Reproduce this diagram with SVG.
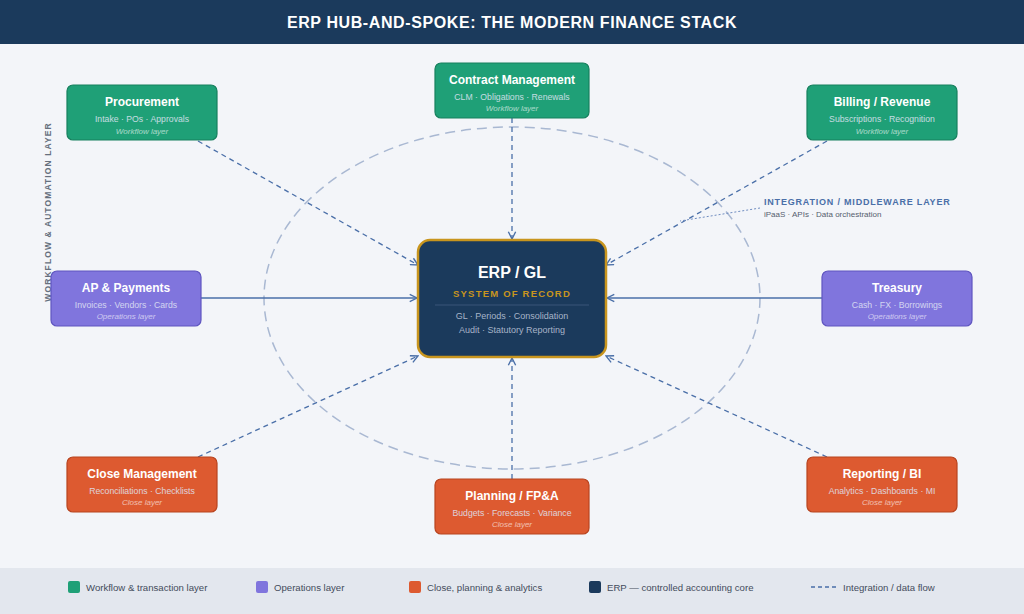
<svg xmlns="http://www.w3.org/2000/svg" width="1024" height="614" viewBox="0 0 1024 614">
<defs>
<style>
text{font-family:"Liberation Sans",Arial,sans-serif}
.t{font-size:12px;font-weight:bold;fill:#fff;text-anchor:middle}
.s{font-size:8.7px;fill:#e0e6f5;text-anchor:middle;opacity:.85}
.l{font-size:8px;font-style:italic;fill:#fff;text-anchor:middle;opacity:.6}
.g rect{fill:#1fa077;stroke:#17805e;stroke-width:1.2}
.p rect{fill:#8075dd;stroke:#5f55c0;stroke-width:1.2}
.o rect{fill:#dd5a30;stroke:#b8441f;stroke-width:1.2}
.c{stroke:#4a6fa8;stroke-width:1.3;fill:none;marker-end:url(#a)}
.d{stroke-dasharray:5 4}
.lg{font-size:9.6px;fill:#444c5c}
</style>
<marker id="a" viewBox="0 0 10 10" refX="9" refY="5" markerWidth="7" markerHeight="7" orient="auto"><path d="M1,1 L9,5 L1,9" fill="none" stroke="#4a6fa8" stroke-width="1.5"/></marker>
</defs>
<rect width="1024" height="614" fill="#f3f5f9"/>
<rect width="1024" height="44" fill="#1b3a5c"/>
<text x="512" y="28" font-size="16" font-weight="bold" fill="#fff" text-anchor="middle" letter-spacing="0.6">ERP HUB-AND-SPOKE: THE MODERN FINANCE STACK</text>
<ellipse cx="512" cy="298" rx="248" ry="171" fill="none" stroke="#a9b8d2" stroke-width="1.5" stroke-dasharray="10 6"/>
<text transform="translate(51,212) rotate(-90)" font-size="8.5" font-weight="bold" fill="#66707e" text-anchor="middle" letter-spacing="1.1">WORKFLOW &amp; AUTOMATION LAYER</text>
<g id="connectors">
<path class="c d" d="M198,141 L418,265"/>
<path class="c d" d="M512,118 L512,239"/>
<path class="c d" d="M827,141 L606,265"/>
<path class="c" d="M201,298 L417,298"/>
<path class="c" d="M822,298 L607,298"/>
<path class="c d" d="M198,457 L418,356"/>
<path class="c d" d="M512,479 L512,358"/>
<path class="c d" d="M827,457 L606,356"/>
<path d="M760,208 L680,221" stroke="#6f8cc0" stroke-width="1" stroke-dasharray="2 2" fill="none"/>
</g>
<g id="integration">
<text x="764" y="205" font-size="9" font-weight="bold" fill="#4a6fa8" letter-spacing="0.8">INTEGRATION / MIDDLEWARE LAYER</text>
<text x="764" y="217" font-size="8" fill="#555e6e">iPaaS · APIs · Data orchestration</text>
</g>
<g id="erp">
<rect x="418" y="240" width="188" height="117" rx="12" fill="#1b3a5c" stroke="#c8951e" stroke-width="2.5"/>
<text x="512" y="278" font-size="16" font-weight="bold" fill="#fff" text-anchor="middle">ERP / GL</text>
<text x="512" y="297" font-size="9.5" font-weight="bold" fill="#c8951e" text-anchor="middle" letter-spacing="1.2">SYSTEM OF RECORD</text>
<line x1="435" y1="305" x2="589" y2="305" stroke="#3a5578" stroke-width="1"/>
<text x="512" y="319" font-size="9" fill="#a7b4c8" text-anchor="middle">GL · Periods · Consolidation</text>
<text x="512" y="333" font-size="9" fill="#a7b4c8" text-anchor="middle">Audit · Statutory Reporting</text>
</g>
<g id="procurement" class="g"><rect x="67" y="85" width="150" height="55" rx="6"/><text class="t" x="142" y="106">Procurement</text><text class="s" x="142" y="122">Intake · POs · Approvals</text><text class="l" x="142" y="134">Workflow layer</text></g>
<g id="contract" class="g"><rect x="435" y="63" width="154" height="55" rx="6"/><text class="t" x="512" y="84">Contract Management</text><text class="s" x="512" y="100">CLM · Obligations · Renewals</text><text class="l" x="512" y="111">Workflow layer</text></g>
<g id="billing" class="g"><rect x="807" y="85" width="150" height="55" rx="6"/><text class="t" x="882" y="106">Billing / Revenue</text><text class="s" x="882" y="122">Subscriptions · Recognition</text><text class="l" x="882" y="134">Workflow layer</text></g>
<g id="ap" class="p"><rect x="51" y="271" width="150" height="55" rx="6"/><text class="t" x="126" y="292">AP &amp; Payments</text><text class="s" x="126" y="308">Invoices · Vendors · Cards</text><text class="l" x="126" y="319">Operations layer</text></g>
<g id="treasury" class="p"><rect x="822" y="271" width="150" height="55" rx="6"/><text class="t" x="897" y="292">Treasury</text><text class="s" x="897" y="308">Cash · FX · Borrowings</text><text class="l" x="897" y="319">Operations layer</text></g>
<g id="close" class="o"><rect x="67" y="457" width="150" height="55" rx="6"/><text class="t" x="142" y="478">Close Management</text><text class="s" x="142" y="494">Reconciliations · Checklists</text><text class="l" x="142" y="505">Close layer</text></g>
<g id="planning" class="o"><rect x="435" y="479" width="154" height="55" rx="6"/><text class="t" x="512" y="500">Planning / FP&amp;A</text><text class="s" x="512" y="516">Budgets · Forecasts · Variance</text><text class="l" x="512" y="527">Close layer</text></g>
<g id="reporting" class="o"><rect x="807" y="457" width="150" height="55" rx="6"/><text class="t" x="882" y="478">Reporting / BI</text><text class="s" x="882" y="494">Analytics · Dashboards · MI</text><text class="l" x="882" y="505">Close layer</text></g>
<g id="legend">
<rect x="0" y="568" width="1024" height="46" fill="#e3e7ee"/>
<rect x="68" y="581" width="12" height="12" rx="2" fill="#1fa077"/><text class="lg" x="86" y="591">Workflow &amp; transaction layer</text>
<rect x="256" y="581" width="12" height="12" rx="2" fill="#8075dd"/><text class="lg" x="274" y="591">Operations layer</text>
<rect x="409" y="581" width="12" height="12" rx="2" fill="#dd5a30"/><text class="lg" x="427" y="591">Close, planning &amp; analytics</text>
<rect x="589" y="581" width="12" height="12" rx="2" fill="#1b3a5c"/><text class="lg" x="607" y="591">ERP — controlled accounting core</text>
<line x1="811" y1="587" x2="836" y2="587" stroke="#4a6fa8" stroke-width="1.3" stroke-dasharray="4 3"/><text class="lg" x="843" y="591">Integration / data flow</text>
</g>
</svg>
